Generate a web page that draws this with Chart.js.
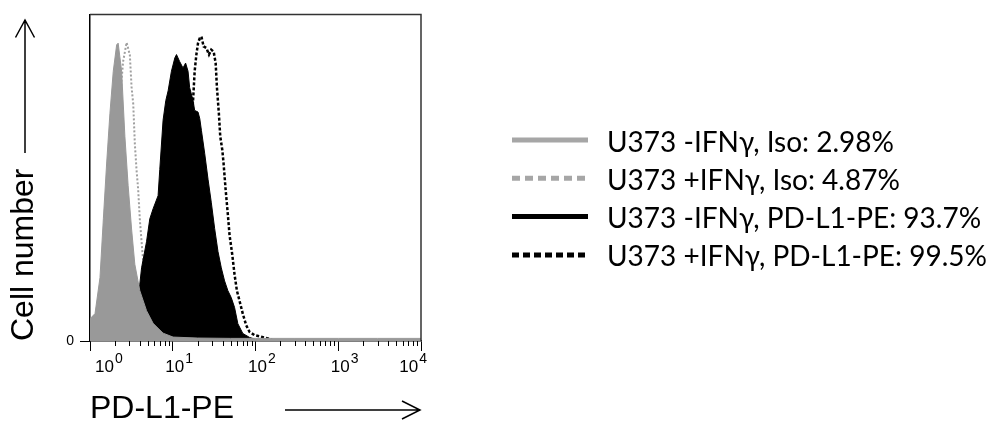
<!DOCTYPE html>
<html>
<head>
<meta charset="utf-8">
<script src="https://cdn.jsdelivr.net/npm/chart.js@4/dist/chart.umd.min.js"></script>
<style>
html,body{margin:0;padding:0;background:#fff;}
#wrap{width:988px;height:425px;position:relative;}
</style>
</head>
<body>
<div id="wrap"><canvas id="c" width="988" height="425"></canvas></div>
<script>
// ---- data (PD-L1-PE intensity on log axis, cell counts as % of plot height) ----
const seriesLabels = [
  'U373 -IFNγ, Iso: 2.98%',
  'U373 +IFNγ, Iso: 4.87%',
  'U373 -IFNγ, PD-L1-PE: 93.7%',
  'U373 +IFNγ, PD-L1-PE: 99.5%'
];
const isoMinusX = [1.00,1.15,1.32,1.45,1.59,1.74,1.91,2.10,2.19,2.41,2.64,2.89,3.18,3.48,4.00,4.82,5.79,7.64,10.1,20,50,100,300,1000,3000,10000];
const isoMinusY = [6.8,8.4,19.4,37.4,54.5,69.6,82.6,90.7,91.2,82.6,62.7,47.6,34.3,23.5,15.4,9.3,5.4,2.4,1.2,0.9,0.8,0.8,0.8,0.8,0.8,0.8];

const isoPlusX = [1.0,1.26,1.58,1.78,2.0,2.24,2.51,2.77,3.03,3.18,3.33,3.48,3.65,3.82,4.0,4.2,4.39,5.0,6.0,7.5,10,15,30,100];
const isoPlusY = [4,6,15,30,50,70,85.5,91.4,87.6,77.7,72.6,60.5,52.4,46.4,37.3,30.4,24.4,14,7,3,1.5,0.8,0.5,0.3];

const pdl1MinusX = [1.0,1.6,2.0,2.5,3.16,4.00,4.20,4.82,5.28,5.79,6.65,6.97,7.64,8.24,8.79,9.64,10.6,11.1,12.1,13.3,14.3,15.3,16.0,17.6,18.4,20.2,21.2,22.2,24.3,26.7,29.2,32.1,35.2,38.6,42.3,46.4,50.9,55.8,61.2,70.3,84.7,100,150];
const pdl1MinusY = [0,0.3,0.5,3,8,17.4,22.4,30.4,37.4,40.5,44.5,52.5,67.6,73.6,76.6,82.6,86.7,87.7,85.6,83.6,85.1,82.6,77.6,73.6,70.6,70.1,68.1,64.5,57.5,49.5,42.5,34.4,27.4,22.4,18.4,15.4,13.3,10.3,5.3,2.3,1.1,0.5,0];

const pdl1PlusX = [1.0,3.0,4.0,6.0,8.0,10.0,13.0,16.0,17.6,18.4,19.3,20.2,21.2,22.2,23.6,25.5,27.4,29.2,31.2,33.0,34.2,36.1,37.5,39.7,41.1,43.5,46.4,48.6,52.4,55.8,59.6,64.1,70.3,77.2,84.7,97.3,117,141,170];
const pdl1PlusY = [0,0,1,4,10,25,45,62,73.6,82.6,87.7,91.2,92.7,93.2,90.2,89.7,87.7,89.2,88.6,85.1,77.6,69.6,62.6,58.5,54.5,46.5,38.5,32.4,26.4,20.4,15.4,12.3,8.3,4.8,2.8,1.8,1.3,0.8,0];

const xTickExponents = [0,1,2,3,4];
const yTickValues = [0];
const xTitle = 'PD-L1-PE';
const yTitle = 'Cell number';

const pts = (xs, ys) => xs.map((x, i) => ({x: x, y: ys[i]}));

// ---- plugins ----
const frame = {
  id: 'frame',
  afterDatasetsDraw(chart) {
    const {ctx, chartArea: a} = chart;
    ctx.save();
    ctx.strokeStyle = '#333';
    ctx.lineWidth = 1.5;
    ctx.beginPath();
    ctx.moveTo(a.left, a.top); ctx.lineTo(a.right, a.top); ctx.lineTo(a.right, a.bottom);
    ctx.stroke();
    ctx.restore();
  }
};

const logAxisDecor = {
  id: 'logAxisDecor',
  afterDraw(chart) {
    const {ctx, chartArea: a} = chart;
    const xs = chart.scales.x;
    ctx.save();
    // minor ticks
    ctx.strokeStyle = '#000';
    ctx.lineWidth = 1;
    for (let e = 0; e < 4; e++) {
      for (let m = 2; m <= 9; m++) {
        const px = Math.round(xs.getPixelForValue(m * Math.pow(10, e))) + 0.5;
        ctx.beginPath(); ctx.moveTo(px, a.bottom); ctx.lineTo(px, a.bottom + 5); ctx.stroke();
      }
    }
    // decade labels 10^n
    ctx.fillStyle = '#000';
    ctx.textBaseline = 'alphabetic';
    ctx.textAlign = 'left';
    const baseFont = '17px "Liberation Sans", Arial, sans-serif';
    const supFont = '14px "Liberation Sans", Arial, sans-serif';
    xTickExponents.forEach(e => {
      const px = xs.getPixelForValue(Math.pow(10, e));
      ctx.font = baseFont; const wb = ctx.measureText('10').width;
      ctx.font = supFont; const ws = ctx.measureText(String(e)).width;
      let left = px + 2 - wb / 2;
      if (left < a.left + 5) left = a.left + 5;
      if (left + wb + ws + 1 > a.right + 6) left = a.right + 6 - wb - ws - 1;
      ctx.font = baseFont; ctx.fillText('10', left, 372);
      ctx.font = supFont; ctx.fillText(String(e), left + wb + 1, 363);
    });
    // axis arrows
    ctx.lineWidth = 1.5;
    ctx.beginPath();
    ctx.moveTo(25, 153); ctx.lineTo(25, 20);
    ctx.moveTo(15.5, 37.5); ctx.lineTo(25, 20); ctx.lineTo(34.5, 37.5);
    ctx.moveTo(285, 410); ctx.lineTo(420, 410);
    ctx.moveTo(402, 401); ctx.lineTo(420, 410); ctx.lineTo(402, 419);
    ctx.stroke();
    ctx.restore();
  }
};

const sideLegend = {
  id: 'sideLegend',
  afterDraw(chart) {
    const {ctx} = chart;
    const ds = chart.data.datasets;
    ctx.save();
    ctx.font = '28px Lato, "Open Sans", sans-serif';
    ctx.textBaseline = 'alphabetic';
    ctx.textAlign = 'left';
    ds.forEach((d, i) => {
      const y = 140 + i * 38.3;
      ctx.beginPath();
      ctx.strokeStyle = d.legendColor;
      ctx.lineWidth = 5;
      ctx.setLineDash(d.legendDash);
      ctx.moveTo(512, y); ctx.lineTo(588, y);
      ctx.stroke();
      ctx.setLineDash([]);
      ctx.fillStyle = '#000';
      ctx.fillText(d.label, 607, y + 11.5);
    });
    ctx.restore();
  }
};

new Chart(document.getElementById('c'), {
  type: 'line',
  data: {
    datasets: [
      { label: seriesLabels[0], data: pts(isoMinusX, isoMinusY), order: 0,
        borderColor: '#999999', backgroundColor: '#999999', borderWidth: 1, fill: 'origin',
        legendColor: '#a6a6a6', legendDash: [] },
      { label: seriesLabels[1], data: pts(isoPlusX, isoPlusY), order: 3,
        borderColor: '#a0a0a0', borderWidth: 2, borderDash: [2, 2], fill: false,
        legendColor: '#a6a6a6', legendDash: [8, 5] },
      { label: seriesLabels[2], data: pts(pdl1MinusX, pdl1MinusY), order: 1,
        borderColor: '#000', backgroundColor: '#000', borderWidth: 1, fill: 'origin',
        legendColor: '#000', legendDash: [] },
      { label: seriesLabels[3], data: pts(pdl1PlusX, pdl1PlusY), order: 2,
        borderColor: '#000', borderWidth: 2.5, borderDash: [3, 2], fill: false,
        legendColor: '#000', legendDash: [7, 4] }
    ]
  },
  options: {
    responsive: false,
    animation: false,
    parsing: true,
    elements: { point: { radius: 0 }, line: { tension: 0 } },
    layout: { padding: { left: 0, right: 567, top: 9, bottom: 0 } },
    plugins: { legend: { display: false }, tooltip: { enabled: false } },
    scales: {
      x: {
        type: 'logarithmic', min: 1, max: 10000,
        afterBuildTicks: s => { s.ticks = xTickExponents.map(e => ({ value: Math.pow(10, e), major: true })); },
        afterFit: s => { s.height = 84; },
        ticks: { display: false },
        grid: { drawOnChartArea: false, drawTicks: true, tickLength: 10, color: '#000', tickColor: '#000', tickWidth: 1 },
        border: { display: true, color: '#000', width: 1.5 },
        title: { display: true, text: xTitle, align: 'start', padding: 0, color: '#000',
                 font: { family: '"Liberation Sans", Arial, sans-serif', size: 32, lineHeight: 1 } }
      },
      y: {
        min: 0, max: 100,
        afterBuildTicks: s => { s.ticks = yTickValues.map(v => ({ value: v })); },
        afterFit: s => { s.width = 90; },
        ticks: { color: '#000', padding: 6, font: { family: '"Liberation Sans", Arial, sans-serif', size: 14 } },
        grid: { drawOnChartArea: false, drawTicks: true, tickLength: 10, color: '#000', tickColor: '#000', tickWidth: 1 },
        border: { display: true, color: '#000', width: 1.5 },
        title: { display: true, text: yTitle, align: 'start', padding: { top: 8, bottom: 0 }, color: '#000',
                 font: { family: '"Liberation Sans", Arial, sans-serif', size: 32, lineHeight: 1 } }
      }
    }
  },
  plugins: [frame, logAxisDecor, sideLegend]
});
</script>
</body>
</html>
